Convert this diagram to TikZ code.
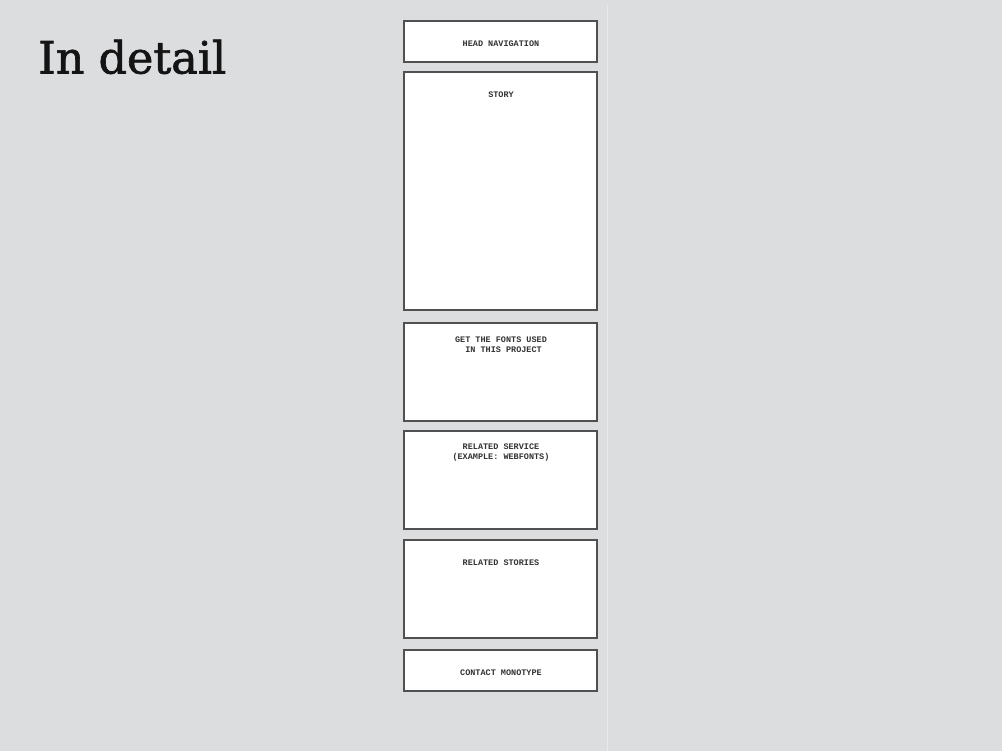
\documentclass[tikz,border=0pt]{standalone}
\usepackage{fontspec}
\setmainfont{DejaVu Serif}
\newfontfamily\titlefont[FakeBold=1.5]{DejaVu Serif}
\newfontfamily\boxfont{Liberation Mono}
\definecolor{bg}{HTML}{DCDDDF}
\definecolor{edge}{HTML}{505050}
\definecolor{seam}{HTML}{E8E9EA}
\begin{document}
\begin{tikzpicture}[x=1pt,y=-1pt,
  panel/.style={draw=edge,line width=1.8pt,fill=white},
  lbl/.style={font=\boxfont\bfseries\fontsize{8.5}{10}\selectfont,text=black!80,align=center,inner sep=0pt}]
\fill[bg] (0,0) rectangle (1002,751);
\useasboundingbox (0,0) rectangle (1002,751);
\coordinate (s1) at (607.5,5);
\coordinate (s2) at (607.5,751);
\draw[seam,line width=1.2pt] (s1) -- (s2);
\node[anchor=base west,inner sep=0pt,font=\titlefont\fontsize{44.5}{50}\selectfont,text=black!92] (title) at (38,73.5) {In detail};
% panels
\draw[panel] (404,21) rectangle (597,62);
\draw[panel] (404,72) rectangle (597,310);
\draw[panel] (404,323) rectangle (597,421);
\draw[panel] (404,431) rectangle (597,529);
\draw[panel] (404,540) rectangle (597,638);
\draw[panel] (404,650) rectangle (597,691);
\node[lbl] (nav) at (501,43.5) {HEAD NAVIGATION};
\node[lbl] (story) at (501,94.5) {STORY};
\node[lbl] (fonts) at (501,344.5) {GET THE FONTS USED\\\ IN THIS PROJECT};
\node[lbl] (service) at (501,452.5) {RELATED SERVICE\\(EXAMPLE: WEBFONTS)};
\node[lbl] (stories) at (501,562.5) {RELATED STORIES};
\node[lbl] (contact) at (501,672.5) {CONTACT MONOTYPE};
\end{tikzpicture}
\end{document}
